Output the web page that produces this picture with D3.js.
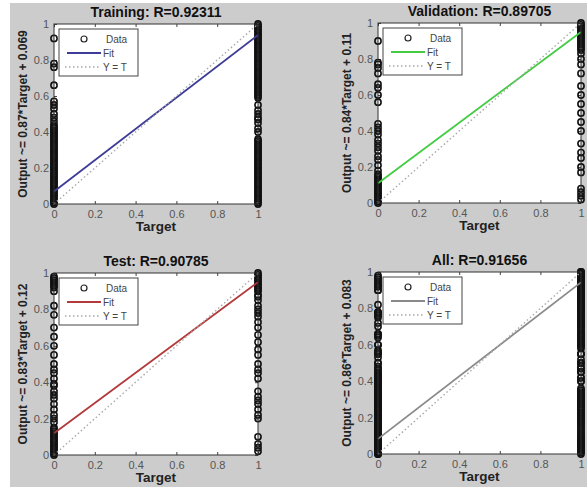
<!DOCTYPE html>
<html><head><meta charset="utf-8">
<script src="https://cdn.jsdelivr.net/npm/d3@7"></script>
<style>
html,body{margin:0;padding:0;background:#fff;}
svg{display:block;font-family:Arial,"Liberation Sans",sans-serif;}
</style></head>
<body><svg id="fig" width="587" height="487"></svg>
<script>
// --- data: network outputs for target 0 and target 1 ---
const trainT0 = [0.92, 0.78, 0.76, 0.66, 0.57, 0.55, 0.53, 0.5, 0.48, 0.46, 0.44, 0.43, 0.42, 0.41, 0.4, 0.39,
  0.38, 0.37, 0.36, 0.35, 0.34, 0.33, 0.32, 0.31, 0.3, 0.29, 0.28, 0.27, 0.26, 0.25, 0.24, 0.23, 0.22, 0.21,
  0.2, 0.19, 0.18, 0.17, 0.16, 0.15, 0.14, 0.13, 0.12, 0.11, 0.1, 0.09, 0.08, 0.07, 0.06, 0.05, 0.04, 0.03,
  0.02, 0.01, 0.0];
const trainT1 = [1.0, 0.99, 0.98, 0.97, 0.96, 0.95, 0.94, 0.93, 0.92, 0.91, 0.9, 0.89, 0.88, 0.87, 0.86, 0.85,
  0.84, 0.83, 0.82, 0.81, 0.8, 0.79, 0.78, 0.77, 0.76, 0.75, 0.74, 0.73, 0.72, 0.71, 0.7, 0.69, 0.68, 0.67,
  0.66, 0.65, 0.64, 0.63, 0.62, 0.61, 0.6, 0.59, 0.55, 0.52, 0.5, 0.48, 0.47, 0.45, 0.42, 0.4, 0.36, 0.35,
  0.34, 0.33, 0.32, 0.31, 0.3, 0.29, 0.28, 0.27, 0.26, 0.25, 0.24, 0.23, 0.22, 0.21, 0.2, 0.19, 0.18, 0.17,
  0.16, 0.15, 0.14, 0.13, 0.12, 0.11, 0.1, 0.09, 0.08, 0.07, 0.06, 0.05, 0.04, 0.03, 0.02, 0.01, 0.0];
const valT0 = [0.9, 0.78, 0.77, 0.75, 0.72, 0.66, 0.64, 0.6, 0.56, 0.44, 0.42, 0.4, 0.38, 0.35, 0.33, 0.31,
  0.29, 0.26, 0.24, 0.21, 0.18, 0.16, 0.15, 0.14, 0.13, 0.12, 0.11, 0.1, 0.09, 0.08, 0.07, 0.06, 0.05, 0.04,
  0.03, 0.02, 0.01, 0.0];
const valT1 = [1.0, 0.99, 0.98, 0.97, 0.96, 0.95, 0.94, 0.93, 0.92, 0.91, 0.9, 0.89, 0.88, 0.87, 0.86, 0.85,
  0.83, 0.8, 0.77, 0.72, 0.65, 0.6, 0.55, 0.5, 0.45, 0.4, 0.33, 0.28, 0.25, 0.2, 0.17, 0.08, 0.06, 0.04, 0.02];
const testT0 = [0.98, 0.97, 0.96, 0.95, 0.94, 0.93, 0.92, 0.9, 0.82, 0.77, 0.7, 0.65, 0.6, 0.55, 0.5, 0.47,
  0.45, 0.42, 0.39, 0.38, 0.35, 0.33, 0.31, 0.28, 0.25, 0.22, 0.2, 0.18, 0.15, 0.14, 0.13, 0.12, 0.11, 0.1,
  0.09, 0.08, 0.07, 0.06, 0.05, 0.04, 0.03, 0.02, 0.01, 0.0];
const testT1 = [1.0, 0.99, 0.98, 0.97, 0.96, 0.95, 0.94, 0.93, 0.92, 0.91, 0.9, 0.88, 0.87, 0.85, 0.82, 0.8,
  0.78, 0.76, 0.73, 0.7, 0.66, 0.62, 0.58, 0.55, 0.5, 0.47, 0.45, 0.42, 0.35, 0.32, 0.3, 0.28, 0.25, 0.22,
  0.2, 0.1, 0.06, 0.04, 0.02];
// "All" is every sample of the three sets together
const allT0 = trainT0.concat(valT0, testT0);
const allT1 = trainT1.concat(valT1, testT1);

const titles = ["Training: R=0.92311", "Validation: R=0.89705", "Test: R=0.90785", "All: R=0.91656"];
const slopes = [0.87, 0.84, 0.83, 0.86];
const intercepts = [0.069, 0.11, 0.12, 0.083];
const yLabels = ["Output ~= 0.87*Target + 0.069", "Output ~= 0.84*Target + 0.11",
  "Output ~= 0.83*Target + 0.12", "Output ~= 0.86*Target + 0.083"];
const ticks = [0, 0.2, 0.4, 0.6, 0.8, 1];
const tickLabels = ["0", "0.2", "0.4", "0.6", "0.8", "1"];
const legendLabels = ["Data", "Fit", "Y = T"];

const zeros = [trainT0, valT0, testT0, allT0];
const ones = [trainT1, valT1, testT1, allT1];
const fitColors = ["#3d3d98", "#44cc44", "#b33a3a", "#8a8a8a"];
// axes boxes (left, top, width, height)
const boxes = [[54, 24, 204, 180], [378, 23, 203, 180], [54, 273, 204, 182], [378, 272, 203, 182]];

const svg = d3.select("#fig");
svg.append("rect").attr("x", 10).attr("y", 3).attr("width", 577).attr("height", 484).attr("fill", "#cccccc");

boxes.forEach(([L, T, W, H], i) => {
  const x = d3.scaleLinear().domain([0, 1]).range([0, W]);
  const y = d3.scaleLinear().domain([0, 1]).range([H, 0]);
  const g = svg.append("g").attr("transform", `translate(${L},${T})`);

  g.append("rect").attr("width", W).attr("height", H).attr("fill", "#fff");

  const fmt = (d, k) => tickLabels[k];
  const styleAxis = sel => {
    sel.select(".domain").remove();
    sel.selectAll("line").attr("stroke", "#444");
    sel.selectAll("text").attr("fill", "#555").style("font-size", "11px").style("font-family", "Arial, 'Liberation Sans', sans-serif");
  };
  g.append("g").attr("transform", `translate(0,${H})`)
    .call(d3.axisBottom(x).tickValues(ticks).tickFormat(fmt).tickSize(-3).tickPadding(6)).call(styleAxis);
  g.append("g").call(d3.axisLeft(y).tickValues(ticks).tickFormat(fmt).tickSize(-3).tickPadding(5)).call(styleAxis);
  g.append("g").call(d3.axisTop(x).tickValues(ticks).tickFormat("").tickSize(-3)).call(styleAxis);
  g.append("g").attr("transform", `translate(${W},0)`)
    .call(d3.axisRight(y).tickValues(ticks).tickFormat("").tickSize(-3)).call(styleAxis);

  // data circles
  const pts = zeros[i].map(v => [0, v]).concat(ones[i].map(v => [1, v]));
  g.selectAll("circle.pt").data(pts).join("circle").attr("class", "pt")
    .attr("cx", d => x(d[0])).attr("cy", d => y(d[1])).attr("r", 3.1)
    .attr("fill", "none").attr("stroke", "#111").attr("stroke-width", 1.6);

  // fit line and Y = T
  const line = d3.line().x(d => x(d[0])).y(d => y(d[1]));
  g.append("path").datum([0, 1].map(t => [t, slopes[i] * t + intercepts[i]])).attr("d", line)
    .attr("fill", "none").attr("stroke", fitColors[i]).attr("stroke-width", 1.8);
  g.append("path").datum([[0, 0], [1, 1]]).attr("d", line)
    .attr("fill", "none").attr("stroke", "#a8a8a8").attr("stroke-width", 1.4).attr("stroke-dasharray", "1.5,2.5");

  g.append("rect").attr("width", W).attr("height", H).attr("fill", "none").attr("stroke", "#333").attr("stroke-width", 1);

  // legend
  const lg = g.append("g").attr("transform", "translate(5,5)");
  lg.append("rect").attr("width", 79).attr("height", 47).attr("fill", "#fff").attr("stroke", "#444");
  const rows = [10, 24, 38];
  lg.append("circle").attr("cx", 25).attr("cy", rows[0]).attr("r", 3).attr("fill", "none").attr("stroke", "#222").attr("stroke-width", 1.2);
  lg.append("line").attr("x1", 8).attr("x2", 42).attr("y1", rows[1]).attr("y2", rows[1])
    .attr("stroke", fitColors[i]).attr("stroke-width", 1.8);
  lg.append("line").attr("x1", 6).attr("x2", 42).attr("y1", rows[2]).attr("y2", rows[2])
    .attr("stroke", "#a8a8a8").attr("stroke-width", 1.3).attr("stroke-dasharray", "1.5,2.5");
  lg.selectAll("text").data(legendLabels).join("text")
    .attr("x", (d, k) => k === 0 ? 47 : 44).attr("y", (d, k) => rows[k]).attr("dy", "0.35em")
    .style("font-size", "10px").attr("fill", "#444").text(d => d);

  // title and labels
  g.append("text").attr("x", W / 2).attr("y", -7).attr("text-anchor", "middle")
    .style("font-size", "14px").style("font-weight", "bold").attr("fill", "#111").text(titles[i]);
  g.append("text").attr("x", W / 2).attr("y", H + 27).attr("text-anchor", "middle")
    .style("font-size", "13.5px").style("font-weight", "bold").attr("fill", "#222").text("Target");
  g.append("text").attr("transform", `translate(-27,${H / 2}) rotate(-90)`).attr("text-anchor", "middle")
    .style("font-size", "12px").style("font-weight", "bold").attr("fill", "#222").text(yLabels[i]);
});
</script>
</body></html>
